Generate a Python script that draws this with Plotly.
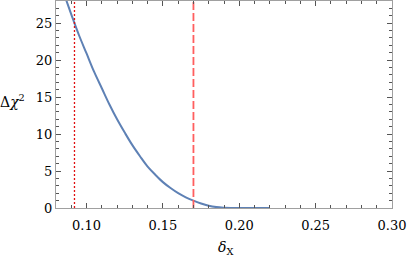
import plotly.graph_objects as go

# Data
delta = [0.085, 0.090, 0.095, 0.100, 0.105, 0.110, 0.115, 0.120, 0.125, 0.130,
         0.135, 0.140, 0.145, 0.150, 0.155, 0.160, 0.165, 0.170, 0.175, 0.180,
         0.185, 0.190, 0.195, 0.200, 0.205, 0.210, 0.215, 0.220]
dchi2 = [29.1, 26.2, 23.4, 20.9, 18.4, 16.2, 14.0, 12.0, 10.2, 8.5,
         7.0, 5.6, 4.5, 3.5, 2.7, 2.0, 1.45, 1.0, 0.6, 0.3,
         0.12, 0.04, 0.01, 0.0, 0.0, 0.0, 0.0, 0.0]
dotted_x = 0.0921
dashed_x = 0.17
x_range = [0.08, 0.30]
y_range = [0, 28]
x_ticks = [0.10, 0.15, 0.20, 0.25, 0.30]
x_ticklabels = ["0.10", "0.15", "0.20", "0.25", "0.30"]
y_ticks = [0, 5, 10, 15, 20, 25]
y_ticklabels = ["0", "5", "10", "15", "20", "25"]

FONT = "DejaVu Serif"

fig = go.Figure()
fig.add_trace(go.Scatter(x=delta, y=dchi2, mode="lines", line_shape="spline",
                         line=dict(color="#5E81B5", width=2), hoverinfo="skip"))
fig.add_trace(go.Scatter(x=[dotted_x, dotted_x], y=y_range, mode="lines",
                         line=dict(color="#E01010", width=1.3, dash="2px,2px")))
fig.add_trace(go.Scatter(x=[dashed_x, dashed_x], y=y_range, mode="lines",
                         line=dict(color="#FF5F5F", width=1.8, dash="8px,3px")))

axis_common = dict(
    showgrid=False, zeroline=False, showline=True, linecolor="#A0A0A0", linewidth=1,
    mirror="allticks", ticks="inside", ticklen=5, tickcolor="#555555", tickwidth=1,
    tickfont=dict(family=FONT, size=13, color="black"),
)
fig.update_xaxes(range=x_range, tickvals=x_ticks, ticktext=x_ticklabels,
                 ticklabelstandoff=5,
                 minor=dict(dtick=0.01, tick0=0.0, ticks="inside", ticklen=3,
                            tickcolor="#555555"),
                 **axis_common)
fig.update_yaxes(range=y_range, tickvals=y_ticks, ticktext=y_ticklabels,
                 minor=dict(dtick=1, tick0=0, ticks="inside", ticklen=3,
                            tickcolor="#555555"),
                 **axis_common)

fig.add_annotation(text="Δ<i>χ</i><sup>2</sup>", xref="paper", yref="paper",
                   x=-0.085, y=0.515, xanchor="right", yanchor="middle", showarrow=False,
                   font=dict(family=FONT, size=14, color="black"))
fig.add_annotation(text="<i>δ</i><sub>X</sub>", xref="paper", yref="paper",
                   x=0.503, y=-0.14, xanchor="center", yanchor="top", showarrow=False,
                   font=dict(family=FONT, size=14, color="black"))

fig.update_layout(width=407, height=259, margin=dict(l=56, r=15, t=1, b=51),
                  plot_bgcolor="white", paper_bgcolor="white", showlegend=False)

fig.write_html("out.html", config={"displayModeBar": False},
               post_script="document.body.style.margin='0px';")
